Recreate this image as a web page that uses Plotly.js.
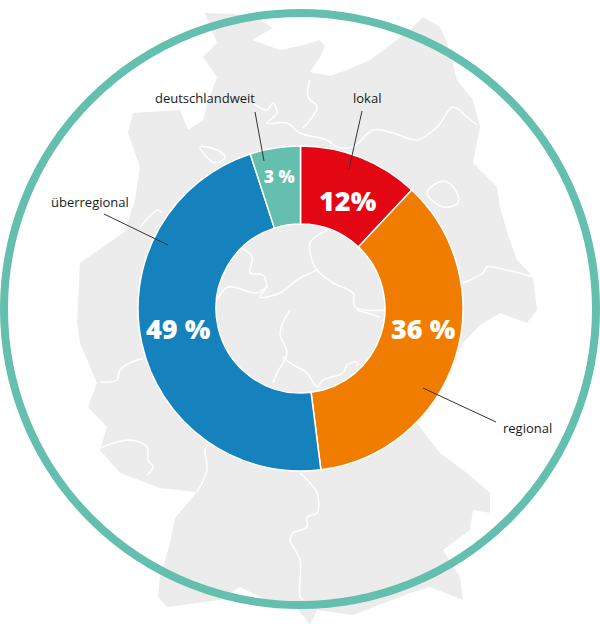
<!DOCTYPE html>
<html><head><meta charset="utf-8">
<script src="https://cdn.plot.ly/plotly-3.0.1.min.js"></script>
<style>html,body{margin:0;padding:0;background:#fff}#c{width:600px;height:629px}</style>
</head><body><div id="c"></div>
<script>
const categories=['lokal','regional','überregional','deutschlandweit'];
const sliceValues=[12,36,47,5];
const shownPercent=['12%','36 %','49 %','3 %'];
const sliceColors=['#e30613','#f07d00','#1581bd','#64bfae'];
const pctX=[348,423,178,279],pctY=[200,328,328,176],pctSize=[27,27,27,17];
const nameX=[367,527,90,205],nameY=[98,428,202,98];
const leadX0=[362,496,104,255],leadY0=[111,422,214,112],leadX1=[349,423,168,264],leadY1=[169,388,245,161];
const mapX=[190,205,235,260,273,252,280,300,320,325,320,310,330,347,370,393,410,423,440,447,457,473,480,473,497,500,508,517,533,537,527,500,480,463,440,417,440,467,490,490,473,470,443,460,463,430,410,353,317,310,297,262,240,220,167,158,160,170,175,197,160,120,100,107,88,97,80,77,80,127,122,135,140,128,133,180,188,203,207,217,203,217,205];
const mapY=[7,13,14,20,28,40,50,46,40,46,57,72,76,70,60,43,30,17,27,43,80,100,127,163,187,207,235,260,277,310,323,313,325,343,385,423,453,473,493,513,510,530,550,577,600,587,593,615,610,625,608,598,587,600,607,597,577,543,518,492,488,473,450,427,407,383,343,323,263,230,240,200,167,133,113,110,130,120,105,77,57,43,13];
const borderA_X=[253,267,273,277,267,287,300,327,337,353,373,393,417,437,453,467,477],borderA_Y=[103,110,103,113,123,123,133,140,147,147,130,133,140,127,107,117,125];
const borderB_X=[310,308,317,303],borderB_Y=[80,97,107,128];
const bremenX=[200,217,225,215,200],bremenY=[147,150,157,163,147];
const berlinX=[427,437,447,457,458,443,427],berlinY=[193,183,182,193,203,207,193];
const borderC_X=[140,158,162],borderC_Y=[227,210,213];
const borderD_X=[327,310,313,317,333,353,355,387],borderD_Y=[230,243,263,270,283,293,307,310];
const borderE_X=[317,297,280,260,267,257,228,217],borderE_Y=[270,280,293,297,287,293,287,300];
const borderF_X=[240,252,250,263,267],borderF_Y=[247,257,273,275,287];
const borderG_X=[463,483,487,507,533],borderG_Y=[283,273,267,270,277];
const borderH_X=[290,280,287,277,273],borderH_Y=[310,333,353,373,383];
const borderI_X=[283,290,307,317,323,343,347,357,357],borderI_Y=[357,363,373,387,380,373,365,362,367];
const borderJ_X=[300,317,317,307,307,293,290,300,300,303],borderJ_Y=[473,493,513,517,527,533,540,560,597,600];
const borderK_X=[100,130,147,148,153,147],borderK_Y=[448,440,447,460,467,475];
const borderL_X=[197,207,205,208],borderL_Y=[492,470,450,445];
const borderM_X=[100,117,120,137,143],borderM_Y=[382,380,370,360,359];
const borderN_X=[357,380],borderN_Y=[310,317];
const borders=[[borderA_X,borderA_Y],[borderB_X,borderB_Y],[bremenX,bremenY],[berlinX,berlinY],[borderC_X,borderC_Y],[borderD_X,borderD_Y],[borderE_X,borderE_Y],[borderF_X,borderF_Y],[borderG_X,borderG_Y],[borderH_X,borderH_Y],[borderI_X,borderI_Y],[borderJ_X,borderJ_Y],[borderK_X,borderK_Y],[borderL_X,borderL_Y],[borderM_X,borderM_Y],[borderN_X,borderN_Y]];

const W=600,H=629,font='"Open Sans", sans-serif';
const traces=[{type:'scatter',mode:'lines',x:mapX,y:mapY,fill:'toself',fillcolor:'#ececec',line:{width:0,color:'#ececec'},hoverinfo:'skip',showlegend:false}];
borders.forEach(b=>traces.push({type:'scatter',mode:'lines',x:b[0],y:b[1],line:{color:'#fff',width:1.5,shape:'spline'},hoverinfo:'skip',showlegend:false}));
traces.push({type:'pie',labels:categories,values:sliceValues,sort:false,direction:'clockwise',rotation:0,hole:0.52,
 marker:{colors:sliceColors,line:{color:'#fff',width:1.5}},textinfo:'none',hoverinfo:'label',showlegend:false,
 domain:{x:[138/W,463/W],y:[1-471/H,1-146/H]}});
const annotations=[];
categories.forEach((c,i)=>{
 annotations.push({xref:'x',yref:'y',x:nameX[i],y:nameY[i],text:c,showarrow:false,font:{family:font,size:13,color:'#1a1a1a'}});
 annotations.push({xref:'x',yref:'y',x:pctX[i],y:pctY[i],text:shownPercent[i],showarrow:false,font:{family:font,size:pctSize[i],weight:800,color:'#fff'}});
});
const shapes=[{type:'circle',xref:'x',yref:'y',x0:4,x1:596,y0:13,y1:605,line:{color:'#64bfae',width:8},layer:'above'}];
categories.forEach((c,i)=>shapes.push({type:'line',xref:'x',yref:'y',x0:leadX0[i],y0:leadY0[i],x1:leadX1[i],y1:leadY1[i],line:{color:'#333',width:1},layer:'above'}));
Plotly.newPlot('c',traces,{width:W,height:H,margin:{l:0,r:0,t:0,b:0},paper_bgcolor:'#fff',plot_bgcolor:'rgba(0,0,0,0)',showlegend:false,
 xaxis:{range:[0,W],visible:false,fixedrange:true},yaxis:{range:[H,0],visible:false,fixedrange:true},annotations,shapes},{displayModeBar:false,staticPlot:true});
</script></body></html>
